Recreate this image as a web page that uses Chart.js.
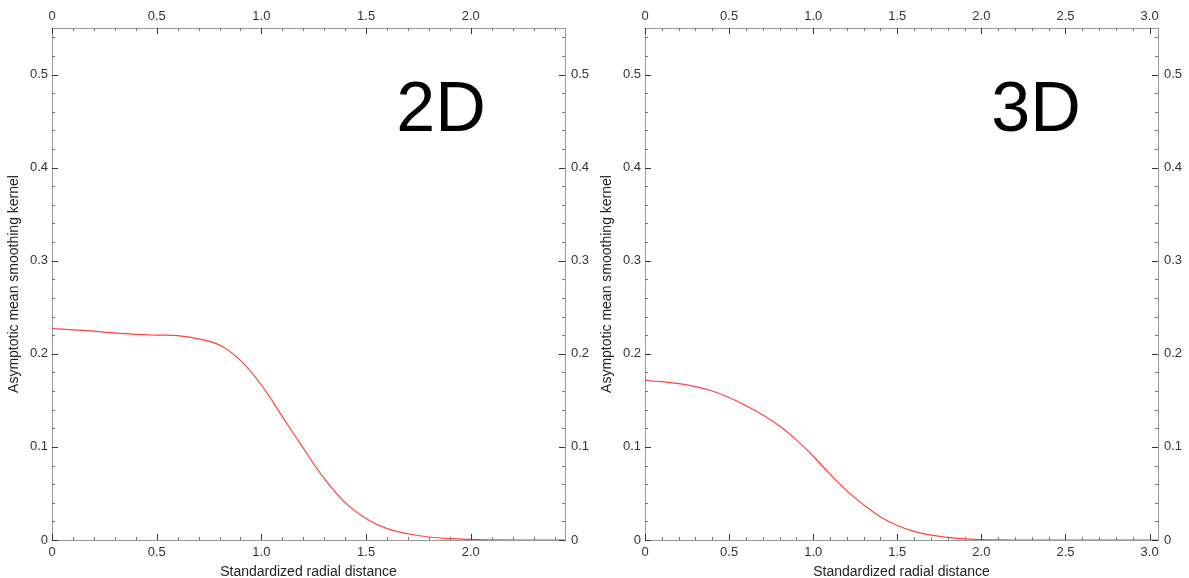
<!DOCTYPE html>
<html>
<head>
<meta charset="utf-8">
<script src="https://cdn.jsdelivr.net/npm/chart.js@4/dist/chart.umd.min.js"></script>
<style>
  html, body { margin: 0; padding: 0; background: #fff; }
  body { width: 1189px; height: 578px; position: relative; overflow: hidden; }
  canvas { position: absolute; top: 0; }
</style>
</head>
<body>
<canvas id="c2d" width="600" height="578" style="left:0px"></canvas>
<canvas id="c3d" width="596" height="578" style="left:593px"></canvas>
<script>
// ---- data ----
const x2D = [0, 0.1, 0.2, 0.3, 0.4, 0.5, 0.6, 0.7, 0.8, 0.9, 1.0, 1.1, 1.2, 1.3, 1.4, 1.5, 1.6, 1.7, 1.8, 1.9, 2.0, 2.1, 2.2, 2.3, 2.45];
const y2D = [0.2272, 0.2258, 0.2243, 0.2225, 0.2209, 0.2201, 0.2196, 0.2160, 0.2095, 0.1930, 0.1665, 0.1326, 0.0986, 0.0661, 0.0402, 0.0231, 0.0122, 0.0067, 0.0032, 0.0014, 0.0006, 0.0002, 0, 0, 0];

const x3D = [0, 0.005, 0.1, 0.2, 0.3, 0.4, 0.5, 0.6, 0.7, 0.8, 0.9, 1.0, 1.1, 1.2, 1.3, 1.4, 1.5, 1.6, 1.7, 1.8, 1.9, 2.0, 2.1, 2.2, 3.05];
const y3D = [0.1760, 0.1718, 0.1702, 0.1680, 0.1648, 0.1600, 0.1530, 0.1442, 0.1343, 0.1225, 0.1075, 0.0900, 0.0707, 0.0528, 0.0379, 0.0247, 0.0156, 0.0092, 0.0052, 0.0028, 0.0013, 0.0005, 0.0001, 0, 0];

const xTicks2D = [0, 0.5, 1.0, 1.5, 2.0];
const xTicks3D = [0, 0.5, 1.0, 1.5, 2.0, 2.5, 3.0];
const yTicks = [0, 0.1, 0.2, 0.3, 0.4, 0.5];
const xMax2D = 2.45;
const xMax3D = 3.05;
const yMax = 0.55;
const xMinorStep = 0.1;
const yMinorStep = 0.02;

const xTitle = 'Standardized radial distance';
const yTitle = 'Asymptotic mean smoothing kernel';

// ---- helpers ----
const FONT = '"Liberation Sans", Arial, Helvetica, sans-serif';
const fmt = v => (Math.abs(v) < 1e-9 ? '0' : v.toFixed(1));
const setTicks = arr => scale => { scale.ticks = arr.map(v => ({ value: v })); };

const insideTicks = {
  id: 'insideTicks',
  afterDraw(chart, args, opts) {
    const { ctx, chartArea: a } = chart;
    const xs = chart.scales.x, ys = chart.scales.y;
    ctx.save();
    ctx.lineWidth = 1;
    const major = 6, minor = 3;
    const isMajor = (v, step) => Math.abs(v / step - Math.round(v / step)) < 1e-6;
    for (let i = 0; i * xMinorStep <= xs.max + 1e-9; i++) {
      const v = i * xMinorStep;
      const px = Math.round(xs.getPixelForValue(v)) + 0.5;
      const big = isMajor(v, 0.5);
      const L = big ? major : minor;
      ctx.strokeStyle = big ? '#333' : '#777';
      ctx.beginPath();
      ctx.moveTo(px, a.bottom); ctx.lineTo(px, a.bottom - L);
      ctx.moveTo(px, a.top); ctx.lineTo(px, a.top + L);
      ctx.stroke();
    }
    for (let i = 0; i * yMinorStep <= ys.max + 1e-9; i++) {
      const v = i * yMinorStep;
      const py = Math.round(ys.getPixelForValue(v)) + 0.5;
      const big = isMajor(v, 0.1);
      const L = big ? major : minor;
      ctx.strokeStyle = big ? '#333' : '#777';
      ctx.beginPath();
      ctx.moveTo(a.left, py); ctx.lineTo(a.left + L, py);
      ctx.moveTo(a.right, py); ctx.lineTo(a.right - L, py);
      ctx.stroke();
    }
    ctx.fillStyle = '#000';
    ctx.font = '70px ' + FONT;
    ctx.textAlign = 'center';
    ctx.textBaseline = 'middle';
    ctx.fillText(opts.label, opts.lx, opts.ly);
    ctx.restore();
  }
};

function makeChart(id, xs, ys, xTickArr, xMax, rightW, label, lx) {
  const tickFont = { family: FONT, size: 13 };
  const border = { display: true, color: '#9a9a9a', width: 1 };
  const grid = { display: true, drawOnChartArea: false, drawTicks: false };
  return new Chart(document.getElementById(id), {
    type: 'line',
    data: {
      datasets: [{
        data: xs.map((x, i) => ({ x: x, y: ys[i] })),
        borderColor: '#ff4040',
        borderWidth: 1.2,
        pointRadius: 0,
        tension: 0.4,
        fill: false
      }]
    },
    options: {
      responsive: false,
      animation: false,
      devicePixelRatio: 1,
      layout: { padding: 0 },
      plugins: {
        legend: { display: false },
        tooltip: { enabled: false },
        insideTicks: { label: label, lx: lx, ly: 112 }
      },
      scales: {
        x: {
          type: 'linear', position: 'bottom', min: 0, max: xMax,
          afterBuildTicks: setTicks(xTickArr),
          afterFit: s => { s.height = 38; },
          ticks: { font: tickFont, color: '#333', padding: 5, maxRotation: 0, autoSkip: false, callback: fmt },
          grid: grid, border: border,
          title: { display: true, text: xTitle, color: '#222', font: { family: FONT, size: 14, lineHeight: '12px' }, padding: { top: 0, bottom: 0 } }
        },
        x2: {
          type: 'linear', position: 'top', min: 0, max: xMax,
          afterBuildTicks: setTicks(xTickArr),
          afterFit: s => { s.height = 28; },
          ticks: { font: tickFont, color: '#333', padding: 4, maxRotation: 0, autoSkip: false, callback: fmt },
          grid: grid, border: border
        },
        y: {
          type: 'linear', position: 'left', min: 0, max: yMax,
          afterBuildTicks: setTicks(yTicks),
          afterFit: s => { s.width = 52; },
          ticks: { font: tickFont, color: '#333', padding: 4, autoSkip: false, callback: fmt },
          grid: grid, border: border,
          title: { display: true, text: yTitle, color: '#222', font: { family: FONT, size: 14 }, padding: { top: 6, bottom: 0 } }
        },
        y2: {
          type: 'linear', position: 'right', min: 0, max: yMax,
          afterBuildTicks: setTicks(yTicks),
          afterFit: s => { s.width = rightW; },
          ticks: { font: tickFont, color: '#333', padding: 6, autoSkip: false, callback: fmt },
          grid: grid, border: border
        }
      }
    },
    plugins: [insideTicks]
  });
}

makeChart('c2d', x2D, y2D, xTicks2D, xMax2D, 35, '2D', 441);
makeChart('c3d', x3D, y3D, xTicks3D, xMax3D, 31, '3D', 1036 - 593);
</script>
</body>
</html>
